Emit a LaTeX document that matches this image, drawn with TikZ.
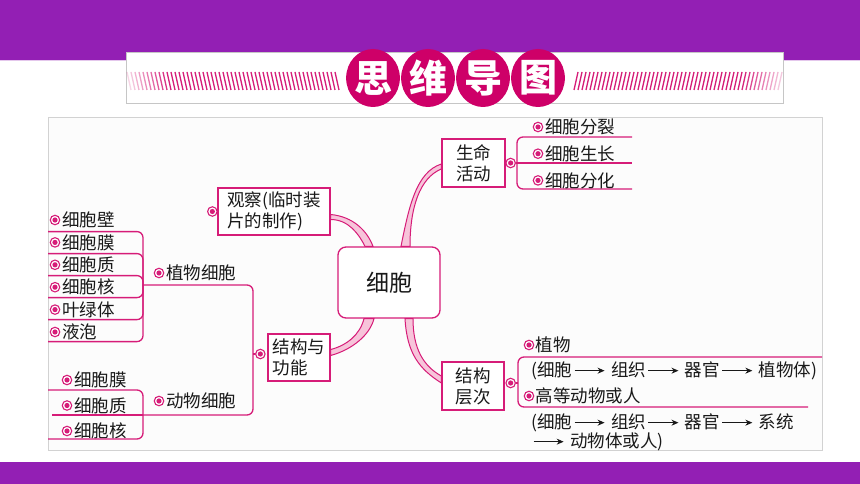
\documentclass[tikz,border=0pt]{standalone}
\usepackage{fontspec}
\newfontfamily\cjk{Noto Sans CJK SC}
\usetikzlibrary{positioning,calc,arrows.meta,shapes.geometric}
\definecolor{mag}{RGB}{214,28,120}
\definecolor{bandpink}{RGB}{247,196,218}
\definecolor{purp}{RGB}{147,31,180}
\definecolor{ink}{RGB}{25,25,25}
\definecolor{head}{RGB}{206,0,104}
\tikzset{
  box/.style={draw=mag, line width=1.3pt, fill=white, text=ink, align=left, inner sep=0pt,
    font=\cjk\fontsize{17.5}{21}\selectfont},
  cellbox/.style={box, rounded corners=8pt, minimum width=102pt, minimum height=71pt,
    font=\cjk\fontsize{23}{26}\selectfont},
  leaf/.style={text=ink, inner sep=0pt, font=\cjk\fontsize{17.5}{19}\selectfont},
  bul/.style={circle, draw=mag, fill=white, line width=1.1pt, inner sep=0pt, minimum size=9.5pt,
    path picture={\fill[mag] (path picture bounding box.center) circle (2.6pt);}},
  br/.style={draw=mag, line width=1.3pt, rounded corners=6pt},
  band/.style={draw=mag, line width=1pt, fill=bandpink},
  titlechar/.style={ellipse, fill=head, minimum width=52pt, minimum height=58pt, inner sep=0pt,
    text=white, font=\cjk\bfseries\fontsize{38}{38}\selectfont}
}
\newcommand\arr{\hspace{2pt}\tikz[baseline=-6pt]\draw[ink, line width=0.9pt, -{Stealth[length=7pt,width=6pt]}] (0pt,0pt) -- (30pt,0pt);\hspace{6pt}}

\begin{document}
\begin{tikzpicture}[x=1pt, y=-1pt]
    \useasboundingbox (0,0) rectangle (860,484);
    \fill[purp] (0,0) rectangle (860,60);
    \draw[purp!25, line width=1pt] (0,60.5) to (860,60.5);
    \fill[purp] (0,462) rectangle (860,484);

    % title banner
    \draw[gray!45, fill=white] (126,52) rectangle (783,103);
    \foreach \x in {127,131,...,335} {
        \pgfmathsetmacro\op{min(1,(\x-118)/50)}
        \draw[mag, line width=1.3pt, opacity=\op] (\x,72) to ++(4,18);
    }
    \foreach \x in {574,578,...,779} {
        \pgfmathsetmacro\op{min(1,(790-\x)/50)}
        \draw[mag, line width=1.3pt, opacity=\op] (\x,90) to ++(4,-18);
    }
    \foreach \c [count=\i] in {思,维,导,图}
        \node[titlechar] (t\i) at (318+55*\i,78) {\c};

    \draw[gray!35, fill=gray!2, line width=1pt] (48,118) rectangle (822,450);

    % main nodes
    \node[cellbox, align=center] (cell) at (389,282.5) {细胞};
    \node[box, minimum width=112pt, minimum height=47pt] (obs) at (274,211.5) {观察(临时装\\片的制作)};
    \node[box, minimum width=63pt, minimum height=48pt] (life) at (473.5,163) {生命\\活动};
    \node[box, minimum width=62pt, minimum height=47pt] (func) at (299,357.5) {结构与\\功能};
    \node[box, minimum width=62pt, minimum height=48pt] (lev) at (473,386) {结构\\层次};

    \draw[band] ($(obs.east)+(0,3)$) .. controls +(22,2) and +(-6,-16) .. ($(cell.north)+(-16,0)$)
        to ($(cell.north)+(-24,0)$) .. controls +(-6,-12) and +(18,0) .. ($(obs.east)+(0,8)$) -- cycle;
    \draw[band] ($(cell.north)+(12,0)$) .. controls +(8,-40) and +(-25,8) .. ($(life.west)+(0,1)$)
        to ($(life.west)+(0,6)$) .. controls +(-22,9) and +(0,-38) .. ($(cell.north)+(21,0)$) -- cycle;
    \draw[band] ($(cell.south)+(-25,0)$) .. controls +(-4,16) and +(16,-4) .. ($(func.east)+(0,-8)$)
        to ($(func.east)+(0,-2)$) .. controls +(22,-6) and +(-4,16) .. ($(cell.south)+(-15,0)$) -- cycle;
    \draw[band] ($(cell.south)+(16,0)$) .. controls +(2,35) and +(-22,-14) .. ($(lev.west)+(0,-3)$)
        to ($(lev.west)+(0,-10)$) .. controls +(-18,-10) and +(0,30) .. ($(cell.south)+(24,0)$) -- cycle;

    \node[bul] (ob) at ($(obs.west)+(-5,0)$) {};
    \node[bul] (lb) at ($(life.east)+(5,0)$) {};
    \node[bul] (fb) at ($(func.west)+(-7,-3.5)$) {};
    \node[bul] (vb) at ($(lev.east)+(6,-3)$) {};

    % plant and animal cell
    \coordinate (pj) at (143,285);
    \coordinate (aj) at (143,415);
    \coordinate (fj) at (253,354);
    \foreach \t [count=\i] in {细胞壁,细胞膜,细胞质,细胞核,叶绿体,液泡} {
        \node[bul] (p\i) at (55,197.6+22.4*\i) {};
        \node[leaf, right=1.5pt of p\i] (pt\i) {\t};
        \draw[br] (48,209.6+22*\i) -| (pj);
    }
    \foreach \t [count=\i] in {细胞膜,细胞质,细胞核} {
        \node[bul] (ani\i) at (67,354.5+25.5*\i) {};
        \node[leaf, right=1.5pt of ani\i] (anit\i) {\t};
    }
    \draw[br] (48,390) -| (aj);
    \draw[br] (48,439) -| (aj);
    \draw[br] (52,415) to (aj);
    \node[bul] (plb) at (159,273) {};
    \node[leaf, right=1.5pt of plb] (plant) {植物细胞};
    \node[bul] (anb) at (159,401) {};
    \node[leaf, right=1.5pt of anb] (animal) {动物细胞};
    \draw[br] (pj) -| (fj) |- (aj);
    \draw[br] (fj) to (fb);

    % life activities
    \coordinate (lj) at (517,163);
    \draw[br] (lb) to (632,163);
    \draw[br] (lj) |- (632,137);
    \draw[br] (lj) |- (632,189);
    \foreach \t [count=\i] in {细胞分裂,细胞生长,细胞分化} {
        \node[bul] (s\i) at (538,100.3+26.7*\i) {};
        \node[leaf, right=1.5pt of s\i] (st\i) {\t};
    }

    % levels
    \coordinate (vj) at (518,383);
    \draw[br] (vb) to (vj);
    \draw[br] (vj) |- (822,357);
    \draw[br] (vj) |- (808,407);
    \node[bul] (v1) at (529,345) {};
    \node[leaf, right=1pt of v1] (plantlv) {植物};
    \node[leaf, anchor=west] (plantch) at (531,371) {(细胞\arr 组织\arr 器官\arr 植物体)};
    \node[bul] (v2) at (529,396) {};
    \node[leaf, right=1pt of v2] (anlv) {高等动物或人};
    \node[leaf, anchor=west, align=left] (anch) at (531,432.5) {(细胞\arr 组织\arr 器官\arr 系统\\\arr 动物体或人)};
\end{tikzpicture}
\end{document}
